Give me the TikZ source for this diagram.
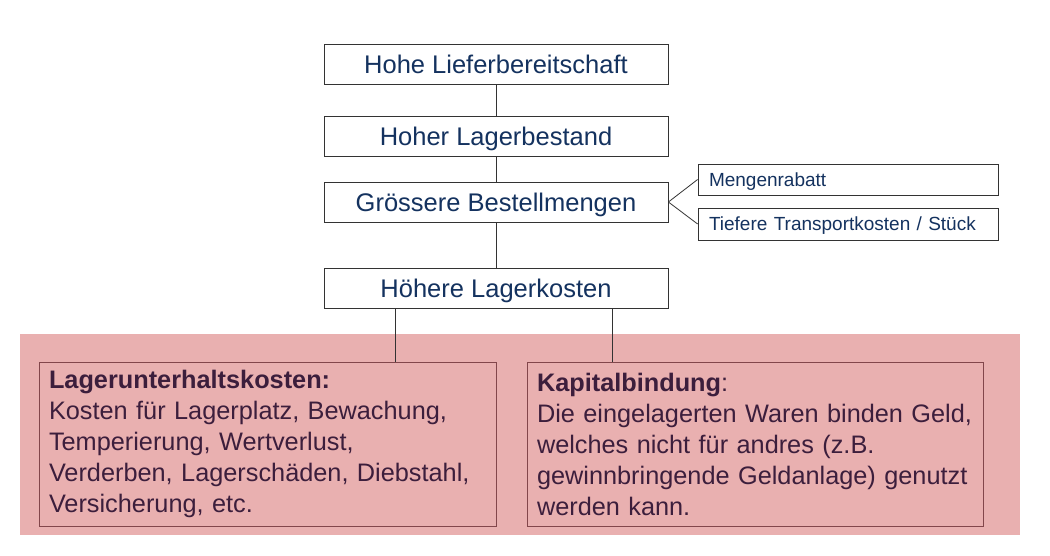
\documentclass[tikz,border=0pt]{standalone}
\usepackage{fontspec}
\setmainfont{Liberation Sans}
\definecolor{navy}{RGB}{20,50,95}
\definecolor{pinkbg}{RGB}{233,176,176}
\definecolor{darkred}{RGB}{130,70,75}
\definecolor{plum}{RGB}{60,30,60}
\begin{document}
\begin{tikzpicture}[x=1pt,y=-1pt,
  mainbox/.style={draw=black!80,line width=0.8pt,fill=white,minimum width=344pt,minimum height=40pt,inner sep=0pt,text height=18.3pt,text depth=0pt,text=navy,font=\fontsize{25.5}{30}\selectfont},
  sidebox/.style={draw=black!80,line width=0.8pt,fill=white,minimum width=300pt,inner xsep=11pt,inner ysep=0pt,text height=13.6pt,text depth=0pt,text=navy,font=\fontsize{19}{22}\selectfont,align=left,text width=278pt},
  costbox/.style={draw=darkred,line width=0.9pt,minimum height=164pt,inner xsep=10pt,inner ysep=0pt,text=plum,font=\fontsize{25.3}{31}\selectfont,align=left},
  link/.style={draw=black!80,line width=0.8pt}]
\useasboundingbox (0,0) rectangle (1050,555);
\fill[pinkbg] (20,334) rectangle (1020,535);
\node[mainbox] (a) at (496,64) {Hohe Lieferbereitschaft};
\node[mainbox] (b) at (496,136) {Hoher Lagerbestand};
\node[mainbox] (c) at (496,202) {Grössere Bestellmengen};
\node[mainbox] (d) at (496,288) {Höhere Lagerkosten};
\node[sidebox,minimum height=31pt] (m) at (848,179.5) {Mengenrabatt};
\node[sidebox,minimum height=32pt] (t) at (848,224) {Tiefere Transportkosten / Stück};
\node[costbox,text width=437pt] (l) at (267.5,444) {\textbf{Lagerunterhaltskosten:}\\Kosten für Lagerplatz, Bewachung,\\Temperierung, Wertverlust,\\Verderben, Lagerschäden, Diebstahl,\\Versicherung, etc.};
\node[costbox,text width=436pt] (k) at (755,444) {\textbf{Kapitalbindung}:\\Die eingelagerten Waren binden Geld,\\welches nicht für andres (z.B.\\gewinnbringende Geldanlage) genutzt\\werden kann.};
\draw[link] (a.south) -- (b.north);
\draw[link] (b.south) -- (c.north);
\draw[link] (c.south) -- (d.north);
\draw[link] (c.east) -- (m.west);
\draw[link] (c.east) -- (t.west);
\coordinate (l1) at (395,308);
\coordinate (k1) at (612,308);
\draw[link] (l1) -- (l1 |- l.north);
\draw[link] (k1) -- (k1 |- k.north);
\end{tikzpicture}
\end{document}
